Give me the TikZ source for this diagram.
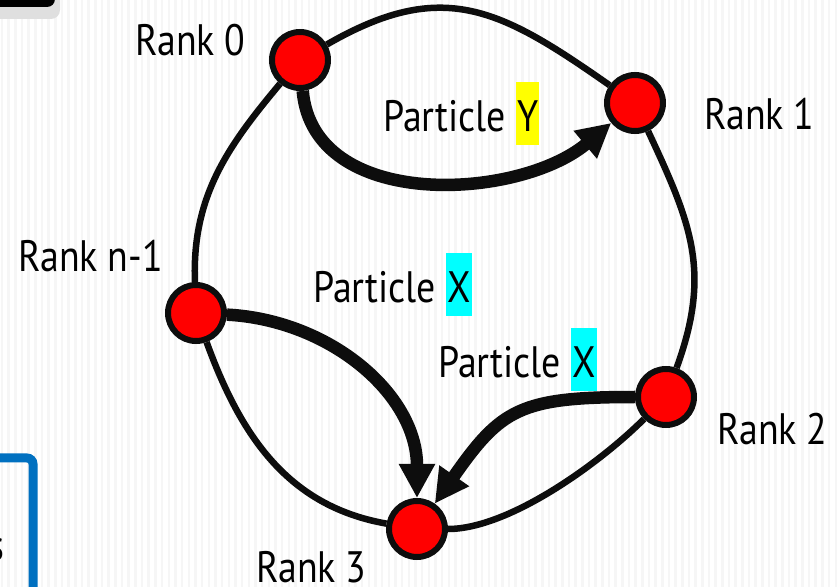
\documentclass[tikz,border=0pt]{standalone}
\usepackage{fontspec}
\setmainfont{PT Sans}[FakeStretch=0.86]
\usetikzlibrary{arrows.meta}
\definecolor{ink}{HTML}{0D0D0D}
\definecolor{framebl}{HTML}{0070C0}
\definecolor{hlyellow}{HTML}{FFFF00}
\definecolor{hlcyan}{HTML}{00FFFF}
\newcommand{\hilite}[2]{{\setlength{\fboxsep}{0pt}\colorbox{#1}{\hspace{1pt}\rule[-13pt]{0pt}{63pt}#2\hspace{1pt}}}}
\tikzset{
  rank/.style={circle,fill=red,draw=ink,line width=6pt,minimum size=56pt,inner sep=0pt},
  ring/.style={draw=ink,line width=6.5pt},
  hop/.style={draw=ink,line width=12.5pt,-{Triangle[length=34pt,width=34pt]}},
  lbl/.style={inner sep=0pt,anchor=base west,font=\fontsize{44}{50}\selectfont}
}
\begin{document}
\begin{tikzpicture}[x=1pt,y=1pt]
\useasboundingbox (0,0) rectangle (839,587);
\clip (0,0) rectangle (839,587);
\fill[white] (0,0) rectangle (839,587);
\foreach \x in {2,8.67,...,839} \draw[gray!7,line width=2.5pt] (\x,0)--(\x,587);
\fill[gray!25,rounded corners=9pt] (-10,600) rectangle (60,568);
\fill[black,rounded corners=8pt] (-10,600) rectangle (55,580);
\draw[framebl,line width=9pt,rounded corners=6pt] (-10,129)--(33,129)--(33,-10);
\node[lbl,anchor=base east] (cut) at (5,27) {s};
\node[rank] (r0) at (300,527) {};
\node[rank] (r1) at (635,484) {};
\node[rank] (rn) at (196,274) {};
\node[rank] (r2) at (666,190) {};
\node[rank] (r3) at (417,58) {};
\draw[ring] (r0) to[out=30,in=145,looseness=1.2] (r1);
\draw[ring] (r1) to[out=-65,in=70,looseness=1.1] (r2);
\draw[ring] (r2) to[out=-135,in=0,looseness=0.7] (r3);
\draw[ring] (r3) to[out=170,in=-70] (rn);
\draw[ring] (rn) to[out=92,in=-130] (r0);
\draw[hop] (r0) to[out=-85,in=-140] (r1);
\draw[hop] (rn) to[out=-3,in=90] (r3);
\draw[hop] (r2) to[out=180,in=55,looseness=1.3] (r3);
\node[lbl] (l0) at (135,531) {Rank 0};
\node[lbl] (l1) at (704,457) {Rank 1};
\node[lbl] (ln) at (18,315) {Rank n-1};
\node[lbl] (l2) at (717,142) {Rank 2};
\node[lbl] (l3) at (256,5) {Rank 3};
\node[lbl] (py) at (383,455) {Particle \hilite{hlyellow}{Y}};
\node[lbl] (px) at (313,284) {Particle \hilite{hlcyan}{X}};
\node[lbl] (pz) at (438,209) {Particle \hilite{hlcyan}{X}};
\end{tikzpicture}
\end{document}
